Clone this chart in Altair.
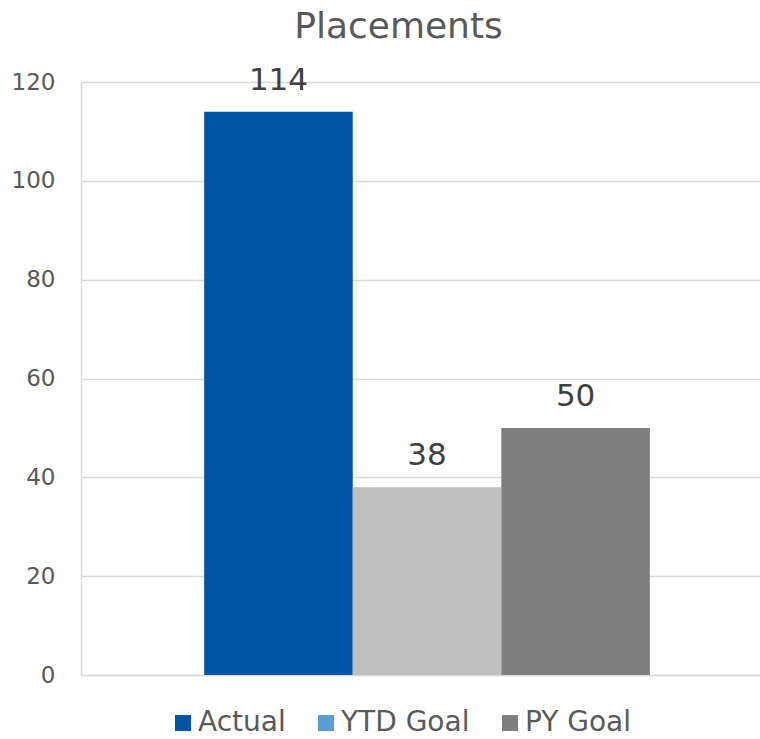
import altair as alt
import pandas as pd

# Placements: actual count versus the two goals
categories = ["Actual", "YTD Goal", "PY Goal"]
values = [114, 38, 50]
bar_colors = ["#0054A6", "#BFBFBF", "#7F7F7F"]
legend_colors = ["#0054A6", "#5B9BD5", "#7F7F7F"]
y_ticks = [0, 20, 40, 60, 80, 100, 120]

df = pd.DataFrame({"category": categories, "value": values})

FONT = "DejaVu Sans"
TEXT = "#595959"
LINE = "#D9D9D9"

x_enc = alt.X(
    "category:N",
    sort=categories,
    scale=alt.Scale(paddingInner=0, paddingOuter=0.785, align=0.528),
    axis=alt.Axis(title=None, labels=False, ticks=False, domainColor=LINE,
                  domainWidth=1.5, grid=False),
)
y_enc = alt.Y(
    "value:Q",
    scale=alt.Scale(domain=[0, 120], nice=False),
    axis=alt.Axis(title=None, values=y_ticks, ticks=False, domainColor=LINE,
                  domainWidth=1.5, gridColor=LINE, gridWidth=1.3,
                  labelFont=FONT, labelFontSize=23, labelColor=TEXT,
                  labelPadding=26),
)

bars = alt.Chart(df).mark_bar().encode(
    x=x_enc,
    y=y_enc,
    color=alt.Color("category:N", sort=categories,
                    scale=alt.Scale(domain=categories, range=bar_colors),
                    legend=None),
)

# invisible points that carry the series legend
legend_layer = alt.Chart(df).mark_square(opacity=0, size=256).encode(
    x=alt.X("category:N", sort=categories),
    y=alt.Y("value:Q"),
    color=alt.Color(
        "category:N",
        sort=categories,
        scale=alt.Scale(domain=categories, range=legend_colors),
        legend=alt.Legend(
            title=None, orient="none", direction="horizontal",
            legendX=88, legendY=627, padding=0,
            symbolType="square", symbolSize=256, symbolOpacity=1,
            symbolStrokeWidth=0, labelFont=FONT, labelFontSize=28,
            labelColor=TEXT, labelOffset=1, columnPadding=26,
        ),
    ),
)

labels = alt.Chart(df).mark_text(
    dy=-22, baseline="alphabetic", font=FONT, fontSize=31, color="#404040"
).encode(
    x=alt.X("category:N", sort=categories),
    y=alt.Y("value:Q"),
    text=alt.Text("value:Q", format=".0f"),
)

chart = (
    alt.layer(bars, legend_layer, labels)
    .resolve_scale(color="independent")
    .resolve_legend(color="independent")
    .properties(
        width=679,
        height=593,
        autosize=alt.AutoSizeParams(type="none"),
        padding={"left": 81, "top": 82, "right": 0, "bottom": 64},
        title=alt.TitleParams(
            "Placements", font=FONT, fontSize=36, fontWeight="normal",
            color=TEXT, anchor="middle", frame="group", dx=-22,
            baseline="alphabetic", offset=-9,
        ),
    )
    .configure_view(stroke=None)
    .configure(background="white")
)

chart.save("out.html", embed_options={"renderer": "svg", "actions": False})
